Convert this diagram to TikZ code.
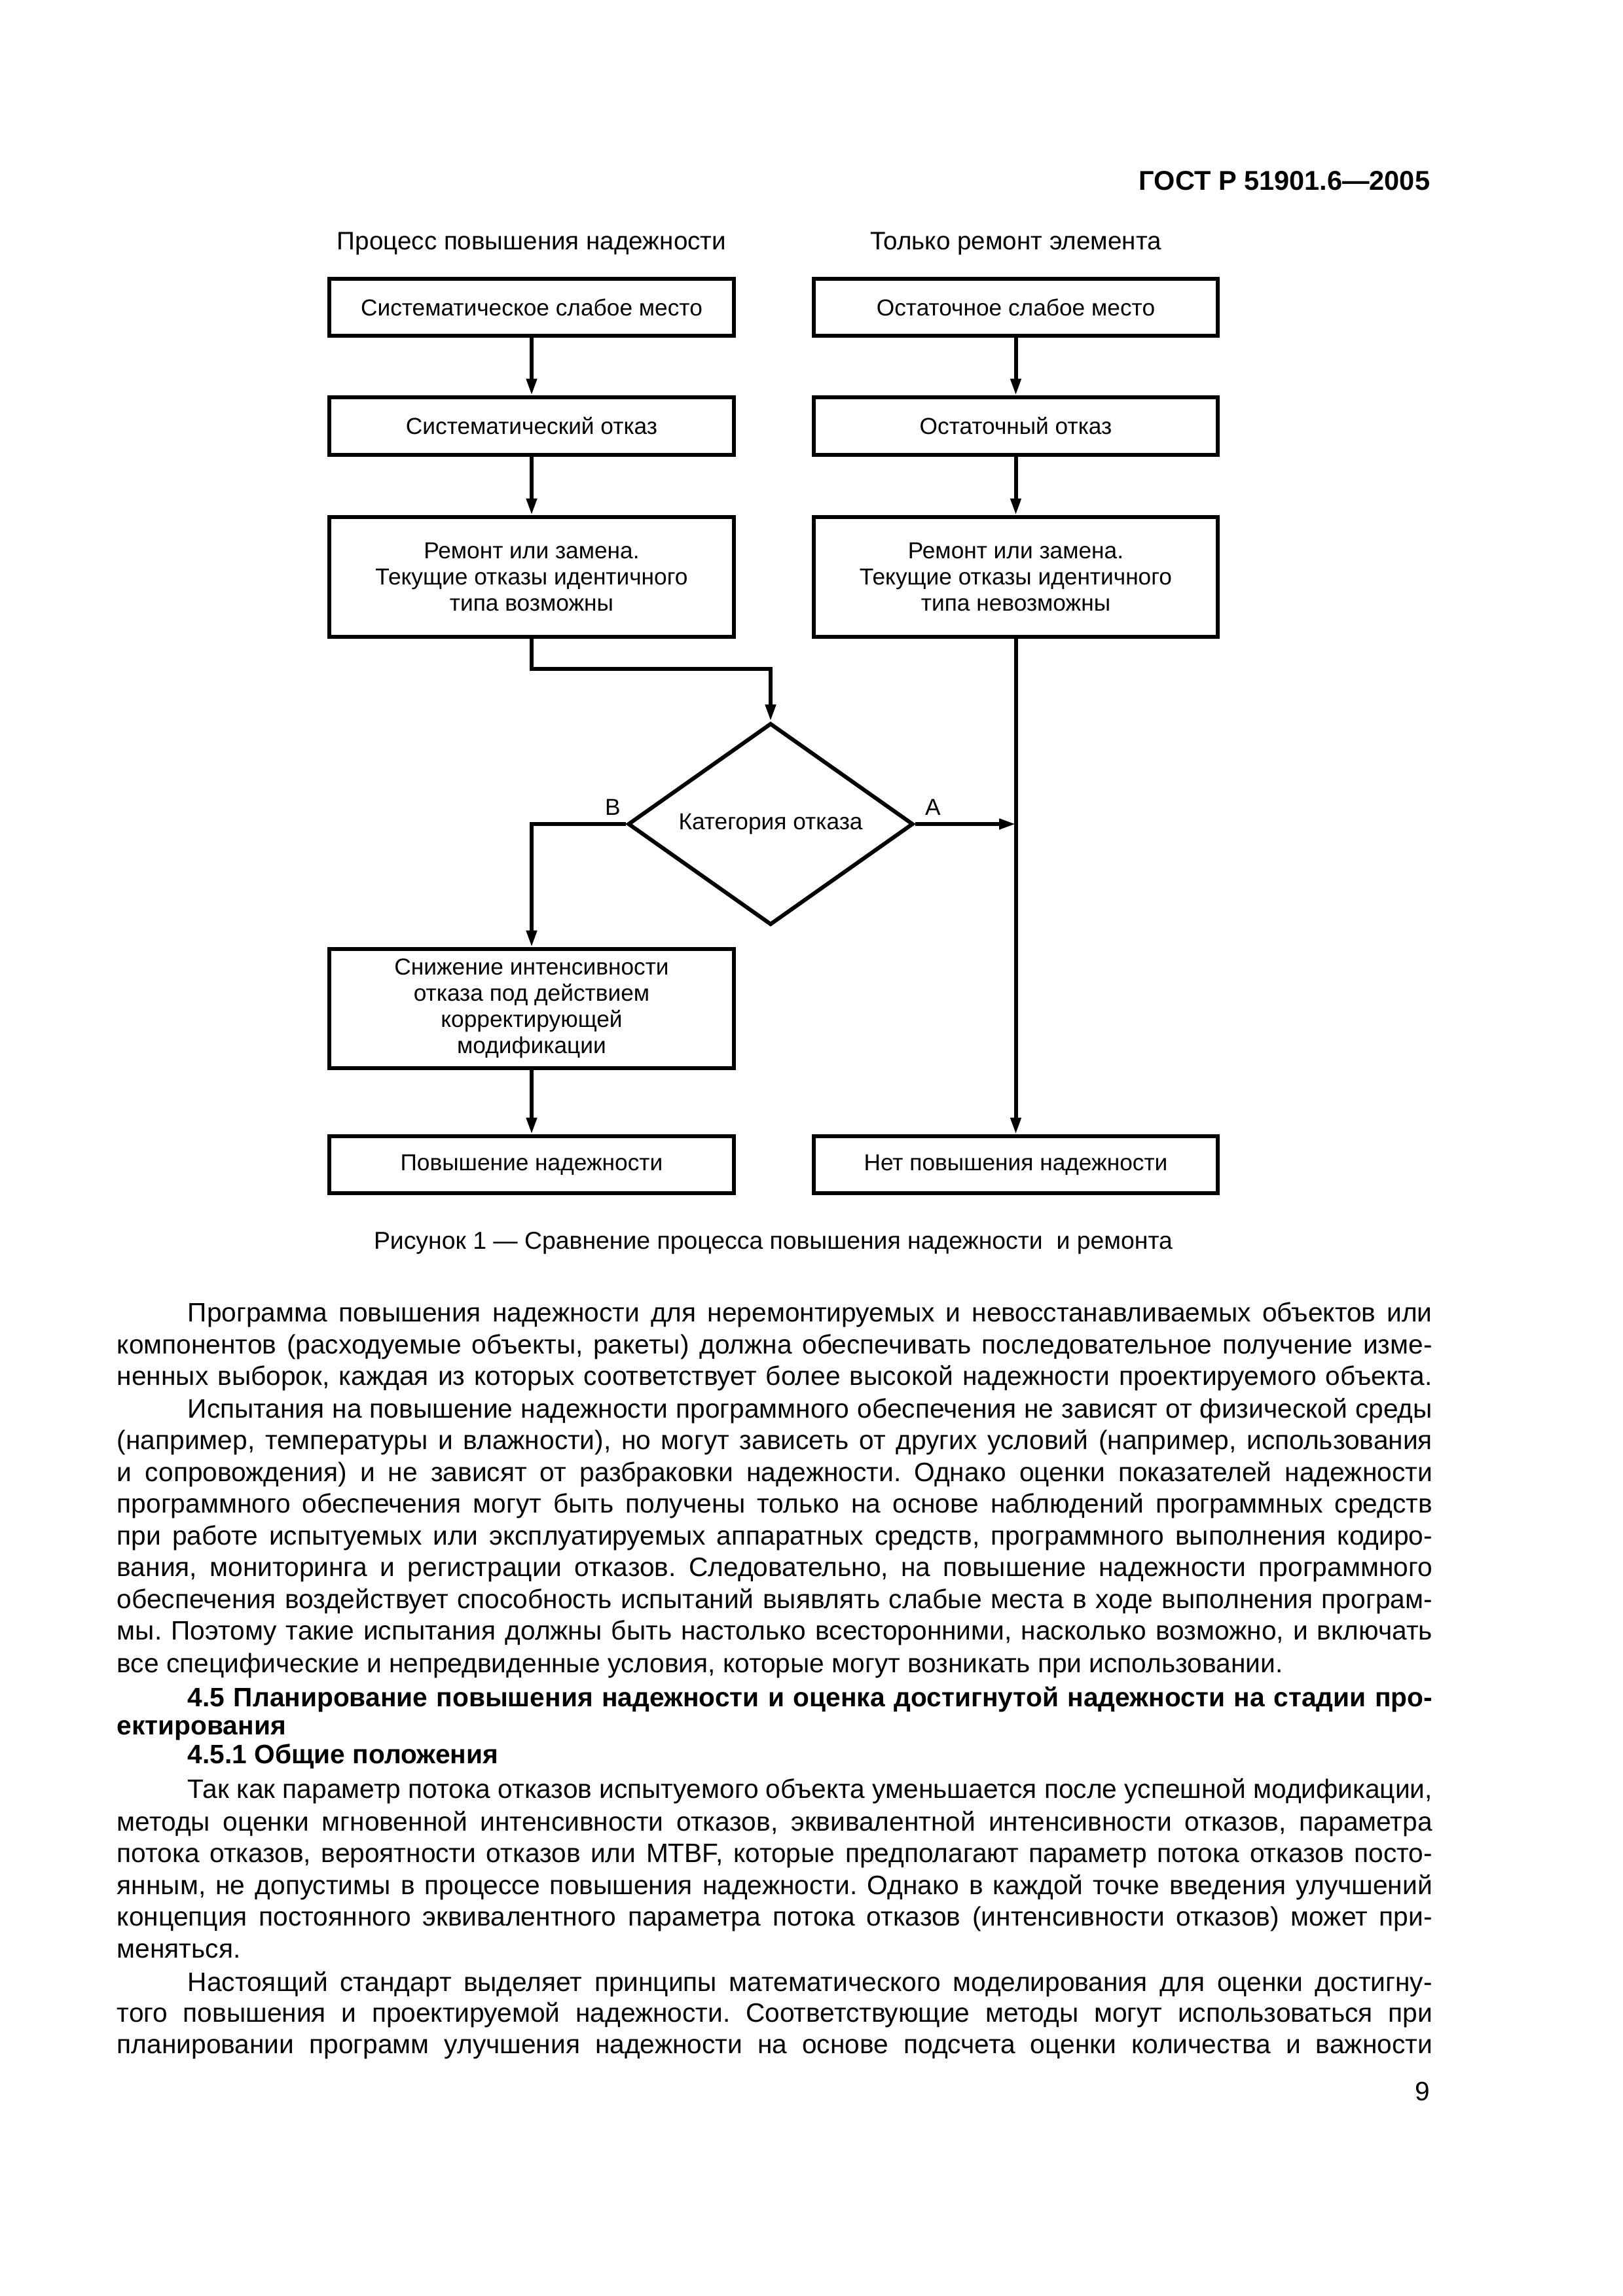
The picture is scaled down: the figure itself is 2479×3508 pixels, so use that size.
\documentclass[tikz,border=0pt]{standalone}
\usepackage{graphicx}
\usepackage{fontspec}
\setmainfont{Liberation Sans}
\usetikzlibrary{shapes.geometric,arrows.meta}
\frenchspacing
\newsavebox\lnbox
\newcommand\jline[2]{\sbox\lnbox{#2}\ifdim\wd\lnbox>#1\relax\resizebox{#1}{\height}{\usebox\lnbox}\else\makebox[#1][s]{#2}\fi}
\def\fw{170.1mm}
\def\iw{160.95mm}
\newcommand\bodyf{\fontsize{9.8}{11.6}\selectfont\frenchspacing}
\newcommand\dfont{\fontsize{8.5}{9.6}\selectfont}
\begin{document}
\begin{tikzpicture}[x=0.084667mm,y=-0.084667mm,
  box/.style={draw,line width=1.45pt,minimum width=52.3mm,inner sep=0pt,align=center,font=\dfont},
  conn/.style={line width=1.45pt,-{Triangle[length=2.15mm,width=1.3mm]}},
  ln/.style={anchor=base west,inner sep=0pt,font=\bodyf},
  lnb/.style={anchor=base west,inner sep=0pt,font=\bodyf\bfseries},
  lbl/.style={anchor=base,inner sep=0pt,font=\dfont}]
\fill[white] (0,0) rectangle (2479,3508);
\useasboundingbox (0,0) rectangle (2479,3508);
% header
\node[anchor=base east,inner sep=0pt,font=\fontsize{10}{12}\selectfont\bfseries] (hdr) at (2185,290) {ГОСТ Р 51901.6—2005};
% column titles
\node[anchor=base,inner sep=0pt,font=\fontsize{9.3}{11}\selectfont] (t1) at (812,381) {Процесс повышения надежности};
\node[anchor=base,inner sep=0pt,font=\fontsize{9.3}{11}\selectfont] (t2) at (1551.5,381) {Только ремонт элемента};
% left column
\node[box,minimum height=7.37mm] (s1) at (812,469.5) {Систематическое слабое место};
\node[box,minimum height=7.45mm] (s2) at (812,651) {Систематический отказ};
\node[box,minimum height=15.5mm] (s3) at (812,881.5) {Ремонт или замена.\\Текущие отказы идентичного\\типа возможны};
\node[box,minimum height=15.4mm] (s4) at (812,1541) {Снижение интенсивности\\отказа под действием\\корректирующей\\модификации};
\node[box,minimum height=7.37mm] (s5) at (812,1779.5) {Повышение надежности};
% right column
\node[box,minimum height=7.37mm] (r1) at (1551.5,469.5) {Остаточное слабое место};
\node[box,minimum height=7.45mm] (r2) at (1551.5,651) {Остаточный отказ};
\node[box,minimum height=15.5mm] (r3) at (1551.5,881.5) {Ремонт или замена.\\Текущие отказы идентичного\\типа невозможны};
\node[box,minimum height=7.37mm] (r5) at (1551.5,1779.5) {Нет повышения надежности};
% decision
\node[diamond,draw,line width=1.45pt,aspect=1.41,minimum width=36.9mm,minimum height=26.1mm,inner sep=0pt,font=\dfont] (dia) at (1177,1259) {Категория отказа};
\node[lbl] (lb) at (936,1245) {B};
\node[lbl] (la) at (1425,1245) {A};
% connectors
\draw[conn] (s1) -- (s2);
\draw[conn] (s2) -- (s3);
\coordinate (k1) at (812,1022);
\draw[conn] (s3.south) -- (k1) -| (dia.north);
\draw[conn] (dia.west) -| (s4.north);
\draw[conn] (s4) -- (s5);
\draw[conn] (r1) -- (r2);
\draw[conn] (r2) -- (r3);
\draw[conn] (r3.south) -- (r5.north);
\coordinate (jn) at (r3.south |- dia.east);
\draw[conn] (dia.east) -- (jn);
% caption
\node[anchor=base,inner sep=0pt,font=\fontsize{9}{11}\selectfont] (cap) at (1181,1908) {Рисунок 1 — Сравнение процесса повышения надежности\ \ и ремонта};
% body text
\node[ln] (l1) at (286,2019) {\jline{\iw}{Программа повышения надежности для неремонтируемых и невосстанавливаемых объектов или}};
\node[ln] (l2) at (178,2068) {\jline{\fw}{компонентов (расходуемые объекты, ракеты) должна обеспечивать последовательное получение изме-}};
\node[ln] (l3) at (178,2116) {\jline{\fw}{ненных выборок, каждая из которых соответствует более высокой надежности проектируемого объекта.}};
\node[ln] (l4) at (286,2166) {\jline{\iw}{Испытания на повышение надежности программного обеспечения не зависят от физической среды}};
\node[ln] (l5) at (178,2214) {\jline{\fw}{(например, температуры и влажности), но могут зависеть от других условий (например, использования}};
\node[ln] (l6) at (178,2263) {\jline{\fw}{и сопровождения) и не зависят от разбраковки надежности. Однако оценки показателей надежности}};
\node[ln] (l7) at (178,2311) {\jline{\fw}{программного обеспечения могут быть получены только на основе наблюдений программных средств}};
\node[ln] (l8) at (178,2360) {\jline{\fw}{при работе испытуемых или эксплуатируемых аппаратных средств, программного выполнения кодиро-}};
\node[ln] (l9) at (178,2408) {\jline{\fw}{вания, мониторинга и регистрации отказов. Следовательно, на повышение надежности программного}};
\node[ln] (l10) at (178,2457) {\jline{\fw}{обеспечения воздействует способность испытаний выявлять слабые места в ходе выполнения програм-}};
\node[ln] (l11) at (178,2505) {\jline{\fw}{мы. Поэтому такие испытания должны быть настолько всесторонними, насколько возможно, и включать}};
\node[ln] (l12) at (178,2555) {все специфические и непредвиденные условия, которые могут возникать при использовании.};
\node[lnb] (l13) at (286,2607) {\jline{\iw}{4.5 Планирование повышения надежности и оценка достигнутой надежности на стадии про-}};
\node[lnb] (l14) at (178,2650) {ектирования};
\node[lnb] (l15) at (286,2694) {4.5.1 Общие положения};
\node[ln] (l16) at (286,2747) {\jline{\iw}{Так как параметр потока отказов испытуемого объекта уменьшается после успешной модификации,}};
\node[ln] (l17) at (178,2797) {\jline{\fw}{методы оценки мгновенной интенсивности отказов, эквивалентной интенсивности отказов, параметра}};
\node[ln] (l18) at (178,2845) {\jline{\fw}{потока отказов, вероятности отказов или MTBF, которые предполагают параметр потока отказов посто-}};
\node[ln] (l19) at (178,2894) {\jline{\fw}{янным, не допустимы в процессе повышения надежности. Однако в каждой точке введения улучшений}};
\node[ln] (l20) at (178,2942) {\jline{\fw}{концепция постоянного эквивалентного параметра потока отказов (интенсивности отказов) может при-}};
\node[ln] (l21) at (178,2991) {меняться.};
\node[ln] (l22) at (286,3042) {\jline{\iw}{Настоящий стандарт выделяет принципы математического моделирования для оценки достигну-}};
\node[ln] (l23) at (178,3089) {\jline{\fw}{того повышения и проектируемой надежности. Соответствующие методы могут использоваться при}};
\node[ln] (l24) at (178,3137) {\jline{\fw}{планировании программ улучшения надежности на основе подсчета оценки количества и важности}};
\node[anchor=base east,inner sep=0pt,font=\bodyf] (pg) at (2185,3209) {9};
\end{tikzpicture}
\end{document}
